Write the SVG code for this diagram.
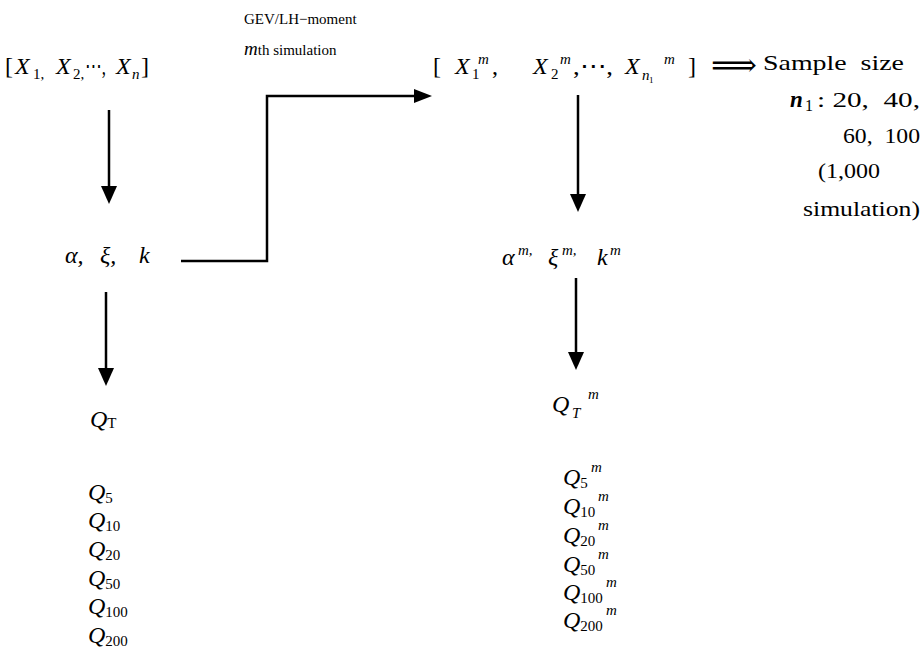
<svg xmlns="http://www.w3.org/2000/svg" width="924" height="662" viewBox="0 0 924 662">
<style>
text{font-family:"Liberation Serif","DejaVu Serif",serif;fill:#000}
.m{font-style:italic;font-size:24px}
.n{font-style:normal;font-size:24px}
.s{font-size:15px;font-style:normal}
.si{font-size:15px;font-style:italic}
.lbl{font-size:15px}
.txt{font-size:22px}
.q{font-style:italic;font-size:24px}
.ln{fill:none;stroke:#000;stroke-width:2.5}
</style>
<rect width="924" height="662" fill="#fff"/>
<g id="connectors">
<line class="ln" x1="109" y1="110" x2="109" y2="186"/>
<path d="M101,186 L117,186 L109,204 Z"/>
<line class="ln" x1="106" y1="292" x2="106" y2="368"/>
<path d="M98,368 L114,368 L106,386 Z"/>
<polyline class="ln" points="181,261 267,261 267,96 414,96"/>
<path d="M414,89 L414,103 L432,96 Z"/>
<line class="ln" x1="578" y1="95" x2="578" y2="194"/>
<path d="M570,194 L586,194 L578,212 Z"/>
<line class="ln" x1="576" y1="278" x2="576" y2="352"/>
<path d="M568,352 L584,352 L576,370 Z"/>
</g>
<g id="label-gev">
<text class="lbl" x="244" y="24">GEV/LH−moment</text>
<text class="lbl" x="244" y="55"><tspan font-style="italic" font-size="19">m</tspan>th simulation</text>
</g>
<g id="node-sample">
<text class="n" x="5" y="74">[</text>
<text class="m" x="15" y="74">X</text>
<text class="s" x="33" y="79">1,</text>
<text class="m" x="56" y="74">X</text>
<text class="s" x="73" y="79">2,</text>
<text class="n" x="85" y="74" textLength="21" lengthAdjust="spacingAndGlyphs">⋯,</text>
<text class="m" x="116" y="74">X</text>
<text class="si" x="132" y="79">n</text>
<text class="n" x="141" y="74">]</text>
</g>
<g id="node-params">
<text class="m" x="65" y="263">α,</text>
<text class="m" x="100" y="263">ξ,</text>
<text class="m" x="139" y="263">k</text>
</g>
<g id="node-qt">
<text class="q" x="90" y="427">Q<tspan class="s" dy="1">T</tspan></text>
<text class="q" x="88" y="500">Q<tspan class="s" dy="3">5</tspan></text>
<text class="q" x="88" y="528">Q<tspan class="s" dy="3">10</tspan></text>
<text class="q" x="88" y="557">Q<tspan class="s" dy="3">20</tspan></text>
<text class="q" x="88" y="586">Q<tspan class="s" dy="3">50</tspan></text>
<text class="q" x="88" y="614">Q<tspan class="s" dy="3">100</tspan></text>
<text class="q" x="88" y="643">Q<tspan class="s" dy="3">200</tspan></text>
</g>
<g id="node-sim-sample">
<text class="n" x="433" y="74">[</text>
<text class="m" x="455" y="74">X</text>
<text class="s" x="472" y="79">1</text>
<text class="si" x="478" y="64">m</text>
<text class="n" x="492" y="74">,</text>
<text class="m" x="533" y="74">X</text>
<text class="s" x="551" y="79">2</text>
<text class="si" x="560" y="64">m</text>
<text class="n" x="573" y="74" textLength="40" lengthAdjust="spacingAndGlyphs">,⋯,</text>
<text class="m" x="625" y="74">X</text>
<text class="si" x="642" y="80" font-size="13">n</text>
<text x="649" y="83" font-size="9">1</text>
<text class="si" x="664" y="64">m</text>
<text class="n" x="688" y="74">]</text>
</g>
<g id="node-arrow">
<text x="711" y="76" font-size="32" font-family="DejaVu Sans, sans-serif">⟹</text>
</g>
<g id="node-size">
<text class="txt" x="763" y="70" xml:space="preserve" textLength="141" lengthAdjust="spacingAndGlyphs">Sample  size</text>
<text x="790" y="107" font-style="italic" font-weight="bold" font-size="23">n</text>
<text x="805" y="111" font-size="16">1</text>
<text class="txt" x="817" y="107" xml:space="preserve" textLength="103" lengthAdjust="spacingAndGlyphs">: 20,  40,</text>
<text class="txt" x="843" y="143" xml:space="preserve" textLength="77" lengthAdjust="spacingAndGlyphs">60,  100</text>
<text class="txt" x="818" y="178" textLength="62" lengthAdjust="spacingAndGlyphs">(1,000</text>
<text class="txt" x="803" y="216" textLength="117" lengthAdjust="spacingAndGlyphs">simulation)</text>
</g>
<g id="node-sim-params">
<text class="m" x="502" y="265">α</text>
<text class="si" x="518" y="255">m,</text>
<text class="m" x="548" y="265">ξ</text>
<text class="si" x="562" y="255">m,</text>
<text class="m" x="597" y="265">k</text>
<text class="si" x="610" y="255">m</text>
</g>
<g id="node-sim-qt">
<text class="q" x="552" y="412">Q</text>
<text class="si" x="572" y="418">T</text>
<text class="si" x="588" y="399">m</text>
<text class="q" x="563" y="485">Q<tspan class="s" dy="3">5</tspan></text>
<text class="si" x="591" y="472">m</text>
<text class="q" x="563" y="514">Q<tspan class="s" dy="3">10</tspan></text>
<text class="si" x="598" y="501">m</text>
<text class="q" x="563" y="543">Q<tspan class="s" dy="3">20</tspan></text>
<text class="si" x="598" y="530">m</text>
<text class="q" x="563" y="572">Q<tspan class="s" dy="3">50</tspan></text>
<text class="si" x="598" y="559">m</text>
<text class="q" x="563" y="600">Q<tspan class="s" dy="3">100</tspan></text>
<text class="si" x="606" y="587">m</text>
<text class="q" x="563" y="628">Q<tspan class="s" dy="3">200</tspan></text>
<text class="si" x="606" y="615">m</text>
</g>
</svg>
